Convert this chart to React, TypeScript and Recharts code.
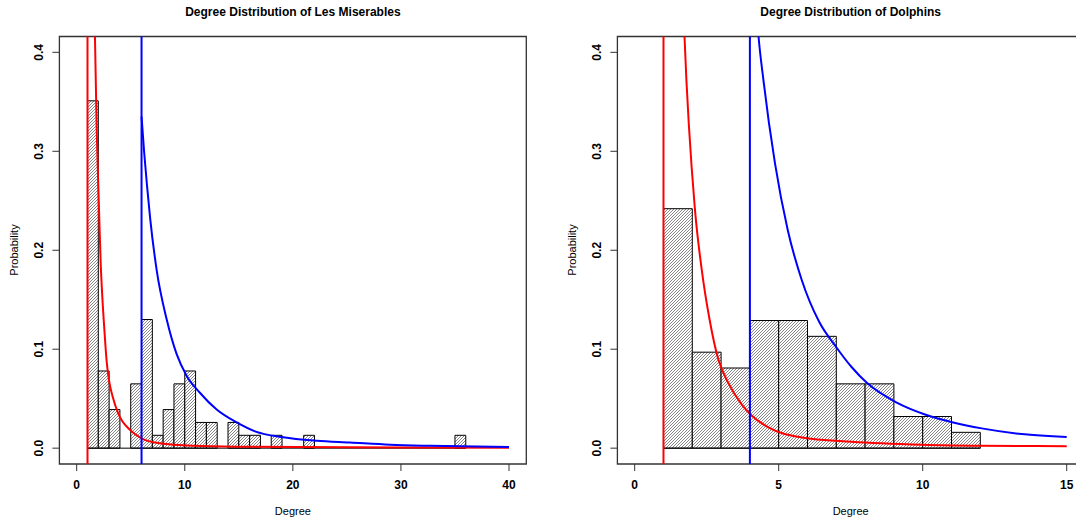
import React from 'react';
import { ComposedChart, XAxis, YAxis, Line, ReferenceArea, ReferenceLine } from 'recharts';

const FONT = '"Liberation Sans", Arial, Helvetica, sans-serif';

// ---------- Les Miserables ----------
const lesMisBinStart = [1, 2, 3, 4, 5, 6, 7, 8, 9, 10, 11, 12, 13, 14, 15, 16, 17, 18, 19, 20, 21, 22, 23, 24, 25, 26, 27, 28, 29, 30, 31, 32, 33, 34, 35];
const lesMisProbability = [0.351, 0.078, 0.039, 0, 0.065, 0.13, 0.013, 0.039, 0.065, 0.078, 0.026, 0.026, 0, 0.026, 0.013, 0.013, 0, 0.013, 0, 0, 0.013, 0, 0, 0, 0, 0, 0, 0, 0, 0, 0, 0, 0, 0, 0.013];
const lesMisXTicks = [0, 10, 20, 30, 40];
const lesMisXmin = [1, 6];
const lesMisFitRedDegree = [1, 1.5, 1.69, 1.85, 2.03, 2.22, 2.37, 2.56, 2.77, 3, 3.33, 3.85, 4.93, 6, 7.7, 10.8, 15, 20.5, 30, 40];
const lesMisFitRedProb = [1.8, 0.58, 0.416, 0.322, 0.254, 0.187, 0.153, 0.12, 0.088, 0.068, 0.052, 0.035, 0.0185, 0.01, 0.005, 0.0024, 0.0015, 0.0012, 0.0008, 0.0005];
const lesMisFitBlueDegree = [6, 6.25, 6.5, 6.8, 7.4, 8.33, 9.25, 10.18, 11.4, 12.95, 14.8, 16.5, 19.1, 22.2, 25.3, 29, 32.7, 40];
const lesMisFitBlueProb = [0.335, 0.298, 0.266, 0.232, 0.18, 0.13, 0.095, 0.073, 0.056, 0.039, 0.026, 0.017, 0.011, 0.0075, 0.0057, 0.0035, 0.0024, 0.0013];

// ---------- Dolphins ----------
const dolphinsBinStart = [1, 2, 3, 4, 5, 6, 7, 8, 9, 10, 11];
const dolphinsProbability = [0.242, 0.097, 0.081, 0.129, 0.129, 0.113, 0.065, 0.065, 0.032, 0.032, 0.016];
const dolphinsXTicks = [0, 5, 10, 15];
const dolphinsXmin = [1, 4];
const dolphinsFitRedDegree = [1, 1.4, 1.73, 2.09, 2.33, 2.6, 2.9, 3.25, 3.72, 4.06, 4.64, 5.8, 7.53, 10, 12, 15];
const dolphinsFitRedProb = [2.0, 0.75, 0.416, 0.242, 0.18, 0.13, 0.09, 0.066, 0.044, 0.033, 0.021, 0.0108, 0.0065, 0.0035, 0.0025, 0.002];
const dolphinsFitBlueDegree = [4, 4.3, 4.47, 4.87, 5.31, 5.8, 6.4, 7.0, 7.53, 8.06, 9.1, 10.08, 11.06, 12.05, 13.44, 15];
const dolphinsFitBlueProb = [0.56, 0.416, 0.372, 0.288, 0.221, 0.17, 0.128, 0.102, 0.082, 0.066, 0.046, 0.034, 0.026, 0.02, 0.0142, 0.0112];

const probabilityTicks = [0, 0.1, 0.2, 0.3, 0.4];
const panelTitles = ['Degree Distribution of Les Miserables', 'Degree Distribution of Dolphins'];
const xLabel = 'Degree';
const yLabel = 'Probability';

const zip = (xs: number[], ys: number[]) => xs.map((x, i) => ({ x, y: ys[i] }));

const AXIS_X_H = 30;
const AXIS_Y_W = 30;

const XTick = (props: any) => {
  const { x, y, payload } = props;
  return (
    <text x={x} y={y + 11.5} textAnchor="middle" dominantBaseline="central" fontSize={12} fontWeight="bold" fontFamily={FONT} fill="#000">
      {payload.value}
    </text>
  );
};

const YTick = (props: any) => {
  const { x, y, payload } = props;
  const cx = x - 11;
  return (
    <text x={cx} y={y} transform={`rotate(-90 ${cx} ${y})`} textAnchor="middle" dominantBaseline="central" fontSize={12} fontWeight="bold" fontFamily={FONT} fill="#000">
      {Number(payload.value).toFixed(1)}
    </text>
  );
};

type PanelProps = {
  left: number;
  width: number;
  plotLeft: number;
  plotRight: number;
  xDomain: [number, number];
  xTicks: number[];
  binStart: number[];
  prob: number[];
  red: { x: number; y: number }[];
  blue: { x: number; y: number }[];
  xmin: number[];
};

const Y_DOMAIN: [number, number] = [-0.016, 0.416];
const PLOT_TOP = 36.5;
const PLOT_BOTTOM = 464;

const Panel = (p: PanelProps) => {
  const lastEdge = p.binStart[p.binStart.length - 1] + 1;
  const margin = {
    top: PLOT_TOP,
    bottom: 519 - PLOT_BOTTOM - AXIS_X_H,
    left: p.plotLeft - AXIS_Y_W,
    right: p.width - p.plotRight,
  };
  return (
    <div style={{ position: 'absolute', left: p.left, top: 0 }}>
      <ComposedChart width={p.width} height={519} margin={margin}>
        <XAxis
          dataKey="x"
          type="number"
          domain={p.xDomain}
          ticks={p.xTicks}
          allowDataOverflow
          height={AXIS_X_H}
          axisLine={false}
          tickLine={{ stroke: '#333', strokeWidth: 1 }}
          tickSize={7}
          tick={<XTick />}
          interval={0}
        />
        <YAxis
          type="number"
          domain={Y_DOMAIN}
          ticks={probabilityTicks}
          allowDataOverflow
          width={AXIS_Y_W}
          axisLine={false}
          tickLine={{ stroke: '#333', strokeWidth: 1 }}
          tickSize={7}
          tick={<YTick />}
          interval={0}
        />
        <ReferenceArea x1={p.xDomain[0]} x2={p.xDomain[1]} y1={Y_DOMAIN[0]} y2={Y_DOMAIN[1]} fill="none" fillOpacity={0} stroke="#333" strokeWidth={1.3} />
        {p.binStart.map((s, i) =>
          p.prob[i] > 0 ? (
            <ReferenceArea key={'b' + i} x1={s} x2={s + 1} y1={0} y2={p.prob[i]} fill="url(#hatch)" fillOpacity={1} stroke="#000" strokeWidth={1} />
          ) : null
        )}
        <ReferenceLine segment={[{ x: p.binStart[0], y: 0 }, { x: lastEdge, y: 0 }]} stroke="#000" strokeWidth={1} />
        <Line data={p.red} dataKey="y" type="monotone" stroke="#ff0000" strokeWidth={2} dot={false} activeDot={false} isAnimationActive={false} />
        <Line data={p.blue} dataKey="y" type="monotone" stroke="#0000ff" strokeWidth={2} dot={false} activeDot={false} isAnimationActive={false} />
        <ReferenceLine x={p.xmin[0]} stroke="#ff0000" strokeWidth={2} />
        <ReferenceLine x={p.xmin[1]} stroke="#0000ff" strokeWidth={2} />
      </ComposedChart>
    </div>
  );
};

const textBase: React.CSSProperties = {
  position: 'absolute',
  fontFamily: FONT,
  color: '#000',
  whiteSpace: 'nowrap',
  lineHeight: 1,
};

const Centered = ({ x, y, size, bold, rotate, children }: any) => (
  <div
    style={{
      ...textBase,
      left: x,
      top: y,
      fontSize: size,
      fontWeight: bold ? 'bold' : 'normal',
      transform: `translate(-50%, -50%)${rotate ? ' rotate(-90deg)' : ''}`,
    }}
  >
    {children}
  </div>
);

export default function App() {
  return (
    <div style={{ position: 'absolute', left: 0, top: 0, width: 1076, height: 519, overflow: 'hidden', background: '#fff' }}>
      <svg width={0} height={0} style={{ position: 'absolute' }}>
        <defs>
          <pattern id="hatch" patternUnits="userSpaceOnUse" width={3} height={3}>
            <rect x={0} y={0} width={3} height={3} fill="#fff" />
            <path d="M-1,1 L1,-1 M0,3 L3,0 M2,4 L4,2" stroke="#222" strokeWidth={0.55} />
          </pattern>
        </defs>
      </svg>
      <Panel
        left={0}
        width={538}
        plotLeft={59.4}
        plotRight={526.3}
        xDomain={[-1.6, 41.6]}
        xTicks={lesMisXTicks}
        binStart={lesMisBinStart}
        prob={lesMisProbability}
        red={zip(lesMisFitRedDegree, lesMisFitRedProb)}
        blue={zip(lesMisFitBlueDegree, lesMisFitBlueProb)}
        xmin={lesMisXmin}
      />
      <Panel
        left={538}
        width={560}
        plotLeft={79.4}
        plotRight={546}
        xDomain={[-0.6, 15.6]}
        xTicks={dolphinsXTicks}
        binStart={dolphinsBinStart}
        prob={dolphinsProbability}
        red={zip(dolphinsFitRedDegree, dolphinsFitRedProb)}
        blue={zip(dolphinsFitBlueDegree, dolphinsFitBlueProb)}
        xmin={dolphinsXmin}
      />
      <Centered x={292.9} y={12} size={12} bold>{panelTitles[0]}</Centered>
      <Centered x={850.7} y={12} size={12} bold>{panelTitles[1]}</Centered>
      <Centered x={292.9} y={510.5} size={11}>{xLabel}</Centered>
      <Centered x={850.7} y={510.5} size={11}>{xLabel}</Centered>
      <Centered x={13.5} y={250} size={11} rotate>{yLabel}</Centered>
      <Centered x={571.5} y={250} size={11} rotate>{yLabel}</Centered>
    </div>
  );
}
